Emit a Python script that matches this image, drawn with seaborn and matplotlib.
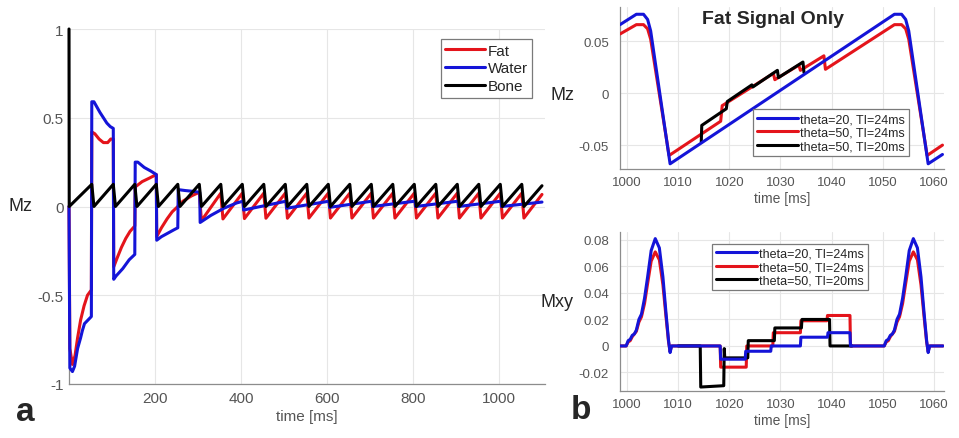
import matplotlib
matplotlib.use("Agg")
import matplotlib.pyplot as plt
import seaborn as sns
from matplotlib.lines import Line2D

# ---------------- panel a : Mz of fat / water / bone ----------------
fat_t = [0, 2, 8, 14, 20, 27, 35, 43, 52,
         53, 60, 70, 80, 90, 97, 103,
         104, 112, 122, 132, 142, 153,
         154, 170, 187, 203,
         204, 215, 228, 240, 253,
         265, 285, 303,
         308, 353, 358, 403, 408, 453, 458, 503, 508, 553, 558, 603, 608, 653,
         658, 703, 708, 753, 758, 803, 808, 853, 858, 903, 908, 953, 958, 1003,
         1008, 1053, 1058, 1100]
fat_mz = [0, -0.80, -0.89, -0.84, -0.74, -0.64, -0.56, -0.50, -0.47,
          0.42, 0.41, 0.38, 0.36, 0.36, 0.38, 0.38,
          -0.34, -0.29, -0.23, -0.18, -0.14, -0.11,
          0.11, 0.14, 0.16, 0.18,
          -0.17, -0.12, -0.07, -0.03, 0.0,
          0.03, 0.06, 0.08,
          -0.08, 0.075, -0.07, 0.075, -0.068, 0.075, -0.066, 0.075, -0.066, 0.075,
          -0.065, 0.075, -0.065, 0.075, -0.065, 0.075, -0.065, 0.075, -0.065, 0.075,
          -0.065, 0.075, -0.065, 0.075, -0.065, 0.075, -0.065, 0.075, -0.065, 0.075,
          -0.065, 0.068]

water_t = [0, 2, 8, 13, 20, 27, 31, 36, 44, 52,
           53, 58, 65, 72, 80, 88, 96, 103,
           104, 110, 125, 140, 153,
           154, 160, 175, 190, 203,
           204, 215, 230, 245, 253,
           254, 270, 290, 304,
           305, 330, 360, 390, 405,
           406, 505, 506, 605, 606, 705, 706, 805, 806, 905, 906, 1005, 1006, 1100]
water_mz = [0, -0.91, -0.93, -0.90, -0.80, -0.74, -0.70, -0.66, -0.64, -0.62,
            0.59, 0.59, 0.56, 0.53, 0.50, 0.47, 0.45, 0.44,
            -0.41, -0.39, -0.35, -0.30, -0.27,
            0.25, 0.25, 0.22, 0.20, 0.18,
            -0.19, -0.17, -0.15, -0.13, -0.12,
            0.095, 0.09, 0.085, 0.08,
            -0.09, -0.05, -0.01, 0.02, 0.03,
            -0.02, 0.03, -0.01, 0.03, -0.005, 0.03, 0.0, 0.03, 0.0, 0.03, 0.0,
            0.03, 0.0, 0.025]

bone_t = [0, 0.5, 53, 58, 103, 108, 153, 158, 203, 208, 253, 258, 303, 308,
          353, 358, 403, 408, 453, 458, 503, 508, 553, 558, 603, 608, 653, 658,
          703, 708, 753, 758, 803, 808, 853, 858, 903, 908, 953, 958, 1003, 1008,
          1053, 1058, 1100]
bone_mz = [1.0, 0.0, 0.125, 0.0, 0.125, 0.0, 0.125, 0.0, 0.125, 0.0, 0.125, 0.0,
           0.125, 0.0, 0.125, 0.0, 0.125, 0.0, 0.125, 0.0, 0.125, 0.0, 0.125, 0.0,
           0.125, 0.0, 0.125, 0.0, 0.125, 0.0, 0.125, 0.0, 0.125, 0.0, 0.125, 0.0,
           0.125, 0.0, 0.125, 0.0, 0.125, 0.0, 0.125, 0.0, 0.117]

# ---------------- panel b : fat signal only ----------------
# Mz
mz_20_24_t = [998.6, 1001.8, 1003.2, 1004.0, 1004.6, 1008.4,
              1052.3, 1053.7, 1054.5, 1055.1, 1058.9, 1061.7]
mz_20_24 = [0.066, 0.076, 0.076, 0.071, 0.060, -0.068,
            0.076, 0.076, 0.071, 0.060, -0.068, -0.059]
mz_50_24_t = [998.6, 1001.8, 1003.2, 1004.0, 1004.6, 1008.2, 1018.3, 1018.6,
              1028.6, 1028.9, 1033.6, 1033.9, 1038.5, 1038.8,
              1052.3, 1053.7, 1054.5, 1055.1, 1058.7, 1061.7]
mz_50_24 = [0.057, 0.066, 0.066, 0.062, 0.052, -0.060, -0.027, -0.012,
            0.019, 0.013, 0.027, 0.022, 0.036, 0.023,
            0.066, 0.066, 0.062, 0.052, -0.060, -0.050]
mz_50_20_t = [1014.5, 1014.6, 1019.4, 1019.6, 1024.4, 1024.6, 1029.4, 1029.6,
              1034.4, 1034.6]
mz_50_20 = [-0.047, -0.031, -0.015, -0.008, 0.008, 0.006, 0.022, 0.015,
            0.030, 0.020]

# Mxy
mxy_20_24_t = [998.6, 999.8, 1000.2, 1000.6, 1001.0, 1001.4, 1001.8, 1002.3, 1002.8,
               1003.4, 1004.0, 1004.7, 1005.5, 1006.3, 1007.0, 1007.6, 1008.1,
               1008.4, 1008.7, 1018.2, 1018.3, 1023.1, 1023.2, 1028.1, 1028.2,
               1033.9, 1034.0, 1039.2, 1039.3, 1043.6, 1043.7,
               1050.3, 1050.7, 1051.1, 1051.5, 1051.9, 1052.3, 1052.8, 1053.3,
               1053.9, 1054.5, 1055.2, 1056.0, 1056.8, 1057.5, 1058.1, 1058.6,
               1058.9, 1059.2, 1061.8]
mxy_20_24 = [0, 0, 0.004, 0.005, 0.008, 0.009, 0.012, 0.020, 0.024,
             0.036, 0.052, 0.072, 0.081, 0.074, 0.052, 0.025, 0.004,
             -0.005, 0, 0, -0.010, -0.010, -0.004, -0.004, 0.0,
             0.0, 0.0066, 0.0066, 0.010, 0.010, 0,
             0, 0.004, 0.005, 0.008, 0.009, 0.012, 0.020, 0.024,
             0.036, 0.052, 0.072, 0.081, 0.074, 0.052, 0.025, 0.004,
             -0.005, 0, 0]
mxy_50_24_t = [998.6, 999.8, 1000.2, 1000.6, 1001.0, 1001.4, 1001.8, 1002.3, 1002.8,
               1003.4, 1004.0, 1004.7, 1005.5, 1006.3, 1007.0, 1007.6, 1008.1,
               1008.4, 1008.7, 1018.2, 1018.3, 1023.3, 1023.4, 1028.5, 1028.6,
               1033.9, 1034.0, 1039.1, 1039.2, 1043.6, 1043.7,
               1050.3, 1050.7, 1051.1, 1051.5, 1051.9, 1052.3, 1052.8, 1053.3,
               1053.9, 1054.5, 1055.2, 1056.0, 1056.8, 1057.5, 1058.1, 1058.6,
               1058.9, 1059.2, 1061.8]
mxy_50_24 = [0, 0, 0.003, 0.004, 0.007, 0.009, 0.011, 0.018, 0.022,
             0.032, 0.047, 0.064, 0.071, 0.065, 0.046, 0.022, 0.003,
             -0.004, 0, 0, -0.016, -0.016, 0.0, 0.0, 0.010,
             0.010, 0.019, 0.019, 0.023, 0.023, 0,
             0, 0.003, 0.004, 0.007, 0.009, 0.011, 0.018, 0.022,
             0.032, 0.047, 0.064, 0.071, 0.065, 0.046, 0.022, 0.003,
             -0.004, 0, 0]
mxy_50_20_t = [1010.0, 1014.3, 1014.4, 1018.9, 1019.0, 1019.1, 1023.6, 1023.7,
               1028.8, 1028.9, 1034.1, 1034.2, 1039.6, 1039.7, 1044.0]
mxy_50_20 = [0, 0, -0.031, -0.030, -0.002, -0.009, -0.009, 0.004,
             0.004, 0.0136, 0.0136, 0.020, 0.020, 0, 0]

RED = "#e4141b"
BLUE = "#1414d8"
BLACK = "#000000"
GRID = "#e6e6e6"
SPINE = "#8c8c8c"
TICK = "#555555"
LW = 2.2

sns.set_style("whitegrid")
plt.rcParams["font.family"] = ["Liberation Sans", "DejaVu Sans"]

fig = plt.figure(figsize=(9.59, 4.39), dpi=100)


def style(ax, fs, ypad):
    ax.grid(True, color=GRID, lw=0.8)
    for s in ["top", "right"]:
        ax.spines[s].set_visible(False)
    for s in ["left", "bottom"]:
        ax.spines[s].set_color(SPINE)
        ax.spines[s].set_linewidth(0.9)
    ax.tick_params(direction="in", length=3, width=0.8, color=SPINE,
                   labelcolor=TICK, labelsize=fs)
    ax.tick_params(axis="x", pad=5)
    ax.tick_params(axis="y", pad=ypad)
    ax.set_ylabel("")


def draw(ax, t, v, c, clip=True):
    sns.lineplot(x=t, y=v, ax=ax, color=c, lw=LW, sort=False, estimator=None,
                 clip_on=clip, zorder=3)


def legend(ax, items, fs, **kw):
    handles = [Line2D([], [], color=c, lw=LW, label=l) for l, c in items]
    leg = ax.legend(handles=handles, fontsize=fs, frameon=True, fancybox=False,
                    framealpha=1, edgecolor="#7a7a7a", borderaxespad=0,
                    handletextpad=0.15, borderpad=0.3, **kw)
    leg.get_frame().set_linewidth(0.9)
    leg.set_zorder(5)
    return leg


# panel a
ax_a = fig.add_axes([69 / 959, 54 / 439, 476 / 959, 355 / 439])
draw(ax_a, fat_t, fat_mz, RED, clip=False)
draw(ax_a, water_t, water_mz, BLUE, clip=False)
draw(ax_a, bone_t, bone_mz, BLACK, clip=False)
ax_a.set_xlim(0, 1107)
ax_a.set_ylim(-1, 1)
ax_a.set_xticks([200, 400, 600, 800, 1000])
ax_a.set_yticks([-1, -0.5, 0, 0.5, 1])
ax_a.set_yticklabels(["-1", "-0.5", "0", "0.5", "1"])
style(ax_a, 11, 4)
ax_a.set_xlabel("time [ms]", fontsize=11, color=TICK, labelpad=3)
legend(ax_a, [("Fat", RED), ("Water", BLUE), ("Bone", BLACK)], 11,
       loc="upper right", bbox_to_anchor=(0.973, 0.972), handlelength=2.6,
       labelspacing=0.25)

# panel b top
ax_t = fig.add_axes([620 / 959, 269 / 439, 324 / 959, 162 / 439])
draw(ax_t, mz_50_24_t, mz_50_24, RED)
draw(ax_t, mz_50_20_t, mz_50_20, BLACK)
draw(ax_t, mz_20_24_t, mz_20_24, BLUE)
ax_t.set_xlim(998.6, 1062)
ax_t.set_ylim(-0.073, 0.083)
ax_t.set_xticks(range(1000, 1061, 10))
ax_t.set_yticks([-0.05, 0, 0.05])
ax_t.set_yticklabels(["-0.05", "0", "0.05"])
style(ax_t, 9.5, 8)
ax_t.set_xlabel("time [ms]", fontsize=10, color=TICK, labelpad=2)
labels_b = [("theta=20, TI=24ms", BLUE), ("theta=50, TI=24ms", RED),
            ("theta=50, TI=20ms", BLACK)]
legend(ax_t, labels_b, 9, loc="lower right", bbox_to_anchor=(0.891, 0.081),
       handlelength=3.3, labelspacing=0.12)

# panel b bottom
ax_b = fig.add_axes([620 / 959, 47 / 439, 324 / 959, 159 / 439])
draw(ax_b, mxy_50_24_t, mxy_50_24, RED)
draw(ax_b, mxy_50_20_t, mxy_50_20, BLACK)
draw(ax_b, mxy_20_24_t, mxy_20_24, BLUE)
ax_b.set_xlim(998.6, 1062)
ax_b.set_ylim(-0.034, 0.086)
ax_b.set_xticks(range(1000, 1061, 10))
ax_b.set_yticks([-0.02, 0, 0.02, 0.04, 0.06, 0.08])
ax_b.set_yticklabels(["-0.02", "0", "0.02", "0.04", "0.06", "0.08"])
style(ax_b, 9.5, 8)
ax_b.set_xlabel("time [ms]", fontsize=10, color=TICK, labelpad=2)
legend(ax_b, labels_b, 9, loc="upper left", bbox_to_anchor=(0.285, 0.925),
       handlelength=3.3, labelspacing=0.12)

# free text
fig.text(33 / 959, 1 - 207 / 439, "Mz", ha="right", va="center", fontsize=13)
fig.text(574 / 959, 1 - 95 / 439, "Mz", ha="right", va="center", fontsize=13)
fig.text(574 / 959, 1 - 303 / 439, "Mxy", ha="right", va="center", fontsize=13)
fig.text(773 / 959, 1 - 19 / 439, "Fat Signal Only", ha="center", va="center",
         fontsize=14, fontweight="bold")
fig.text(25 / 959, 1 - 413 / 439, "a", ha="center", va="center", fontsize=24,
         fontweight="bold")
fig.text(581 / 959, 1 - 411 / 439, "b", ha="center", va="center", fontsize=24,
         fontweight="bold")

fig.savefig("out.png", dpi=100)
